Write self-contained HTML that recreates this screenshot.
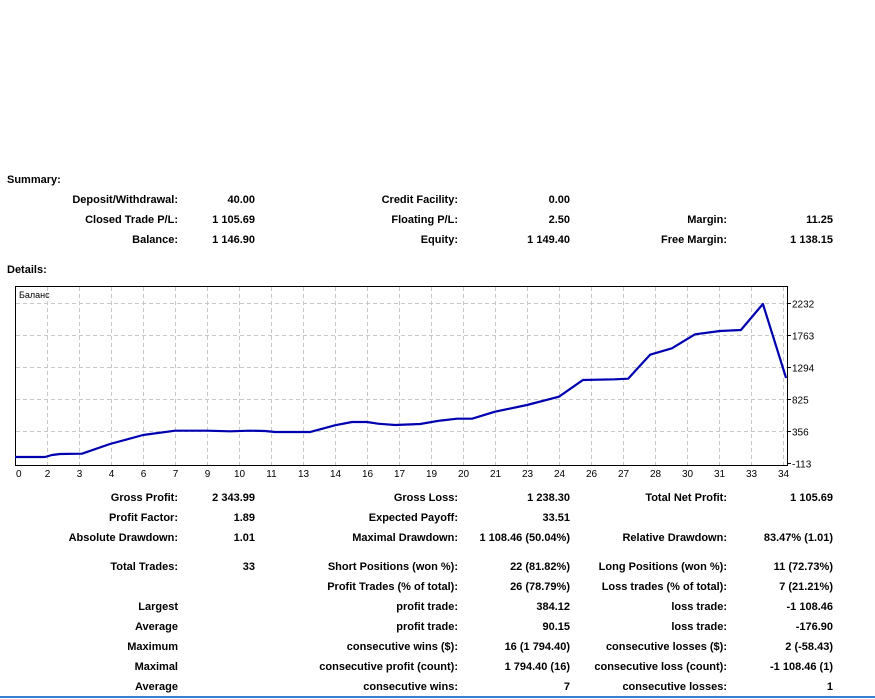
<!DOCTYPE html>
<html><head><meta charset="utf-8">
<style>
html,body{margin:0;padding:0;background:#fff;}
body{width:875px;height:699px;position:relative;overflow:hidden;font-family:"Liberation Sans",sans-serif;font-size:11px;font-weight:bold;color:#000;}
.t{position:absolute;white-space:nowrap;line-height:13px;}
#chart{position:absolute;left:0;top:0;}
#bottom-line{position:absolute;left:0;top:696px;width:875px;height:2px;background:#3a7bd5;}
</style></head><body>
<div id="texts"></div>
<svg id="chart" width="875" height="699"></svg>
<div id="bottom-line"></div>
<script>
// ---- chart data ----
const trades = [0,1.32,1.63,1.98,2.95,4.18,5.64,7.05,8.46,9.47,10.35,11.01,11.45,12.99,14.09,14.84,15.50,15.99,16.74,17.84,18.72,19.47,20.13,21.14,22.55,23.96,25.01,26.42,27.00,27.97,28.93,29.95,31.05,31.97,32.94,33.96];
const balance = [-25,-25,4,19,23,165,297,360,360,352,360,356,341,341,440,488,488,463,444,459,508,536,536,639,737,859,1103,1114,1122,1474,1568,1773,1822,1836,2217,1133];
const yTicks = [-113,356,825,1294,1763,2232];
const xTickLabels = ["0","2","3","4","6","7","9","10","11","13","14","16","17","19","20","21","23","24","26","27","28","30","31","33","34"];

const L=15,R=787,T=286,B=465;
const xMin=0,xMax=34;
const yMin=-113,yMax=2232;
function xs(t){return L+(t-xMin)/(xMax-xMin)*(R-L);}
function ys(v){return 463-(v-yMin)/(yMax-yMin)*(463-303);}

const NS="http://www.w3.org/2000/svg";
const svg=document.getElementById('chart');
function mk(tag,attrs,parent){const e=document.createElementNS(NS,tag);for(const k in attrs)e.setAttribute(k,attrs[k]);(parent||svg).appendChild(e);return e;}

const frame=mk('rect',{x:L+0.5,y:T+0.5,width:R-L,height:B-T,fill:'#fff',stroke:'#000','stroke-width':1});



yTicks.forEach(v=>{
  const y=Math.round(ys(v))+0.5;
  if(v!==yMin){
    const g=mk('line',{x1:L+1,x2:R,y1:y,y2:y,stroke:'#c8c8c8','stroke-dasharray':'4,3'});
    
    
  }
  const tk=mk('line',{x1:R,x2:R+4,y1:y,y2:y,stroke:'#000'});
  
  
  const tx=mk('text',{x:R+5,y:y+4,'font-size':'10','font-family':'Liberation Sans, sans-serif','font-weight':'normal'});
  tx.textContent=String(v);
  
  
});

xTickLabels.forEach((lab,k)=>{
  const x=L+32*k+0.5;
  if(k>0){
    const g=mk('line',{x1:x,x2:x,y1:T+1,y2:B,stroke:'#c8c8c8','stroke-dasharray':'4,3'});
    
    
  }
  const tx=mk('text',{x:k===0?L+1:x,y:B+12,'font-size':'10','font-family':'Liberation Sans, sans-serif','font-weight':'normal','text-anchor':k===0?'start':'middle'});
  tx.textContent=lab;
  
  
});

const ttl=mk('text',{x:L+4,y:T+12,'font-size':'9','font-family':'Liberation Sans, sans-serif','font-weight':'normal'});
ttl.textContent='Баланс';



const pts=trades.map((t,i)=>xs(t).toFixed(1)+','+ys(balance[i]).toFixed(1)).join(' ');
const line=mk('polyline',{points:pts,fill:'none',stroke:'#0000b0','stroke-width':2.2,'stroke-linejoin':'round'});



// ---- text ----
const rows=[
 ['Summary:',7,179,'l'],
 ['Deposit/Withdrawal:',178,199,'r'],['40.00',255,199,'r'],['Credit Facility:',458,199,'r'],['0.00',570,199,'r'],
 ['Closed Trade P/L:',178,219,'r'],['1 105.69',255,219,'r'],['Floating P/L:',458,219,'r'],['2.50',570,219,'r'],['Margin:',727,219,'r'],['11.25',833,219,'r'],
 ['Balance:',178,239,'r'],['1 146.90',255,239,'r'],['Equity:',458,239,'r'],['1 149.40',570,239,'r'],['Free Margin:',727,239,'r'],['1 138.15',833,239,'r'],
 ['Details:',7,269,'l'],
 ['Gross Profit:',178,497,'r'],['2 343.99',255,497,'r'],['Gross Loss:',458,497,'r'],['1 238.30',570,497,'r'],['Total Net Profit:',727,497,'r'],['1 105.69',833,497,'r'],
 ['Profit Factor:',178,517,'r'],['1.89',255,517,'r'],['Expected Payoff:',458,517,'r'],['33.51',570,517,'r'],
 ['Absolute Drawdown:',178,537,'r'],['1.01',255,537,'r'],['Maximal Drawdown:',458,537,'r'],['1 108.46 (50.04%)',570,537,'r'],['Relative Drawdown:',727,537,'r'],['83.47% (1.01)',833,537,'r'],
 ['Total Trades:',178,566,'r'],['33',255,566,'r'],['Short Positions (won %):',458,566,'r'],['22 (81.82%)',570,566,'r'],['Long Positions (won %):',727,566,'r'],['11 (72.73%)',833,566,'r'],
 ['Profit Trades (% of total):',458,586,'r'],['26 (78.79%)',570,586,'r'],['Loss trades (% of total):',727,586,'r'],['7 (21.21%)',833,586,'r'],
 ['Largest',178,606,'r'],['profit trade:',458,606,'r'],['384.12',570,606,'r'],['loss trade:',727,606,'r'],['-1 108.46',833,606,'r'],
 ['Average',178,626,'r'],['profit trade:',458,626,'r'],['90.15',570,626,'r'],['loss trade:',727,626,'r'],['-176.90',833,626,'r'],
 ['Maximum',178,646,'r'],['consecutive wins ($):',458,646,'r'],['16 (1 794.40)',570,646,'r'],['consecutive losses ($):',727,646,'r'],['2 (-58.43)',833,646,'r'],
 ['Maximal',178,666,'r'],['consecutive profit (count):',458,666,'r'],['1 794.40 (16)',570,666,'r'],['consecutive loss (count):',727,666,'r'],['-1 108.46 (1)',833,666,'r'],
 ['Average',178,686,'r'],['consecutive wins:',458,686,'r'],['7',570,686,'r'],['consecutive losses:',727,686,'r'],['1',833,686,'r']
];
const box=document.getElementById('texts');
rows.forEach(r=>{
  const d=document.createElement('div');
  d.className='t';
  d.textContent=r[0];
  d.style.top=(r[2]-5)+'px';
  if(r[3]==='l'){d.style.left=r[1]+'px';}
  else{d.style.right=(875-r[1])+'px';}
  
  
  box.appendChild(d);
});
</script>
</body></html>
